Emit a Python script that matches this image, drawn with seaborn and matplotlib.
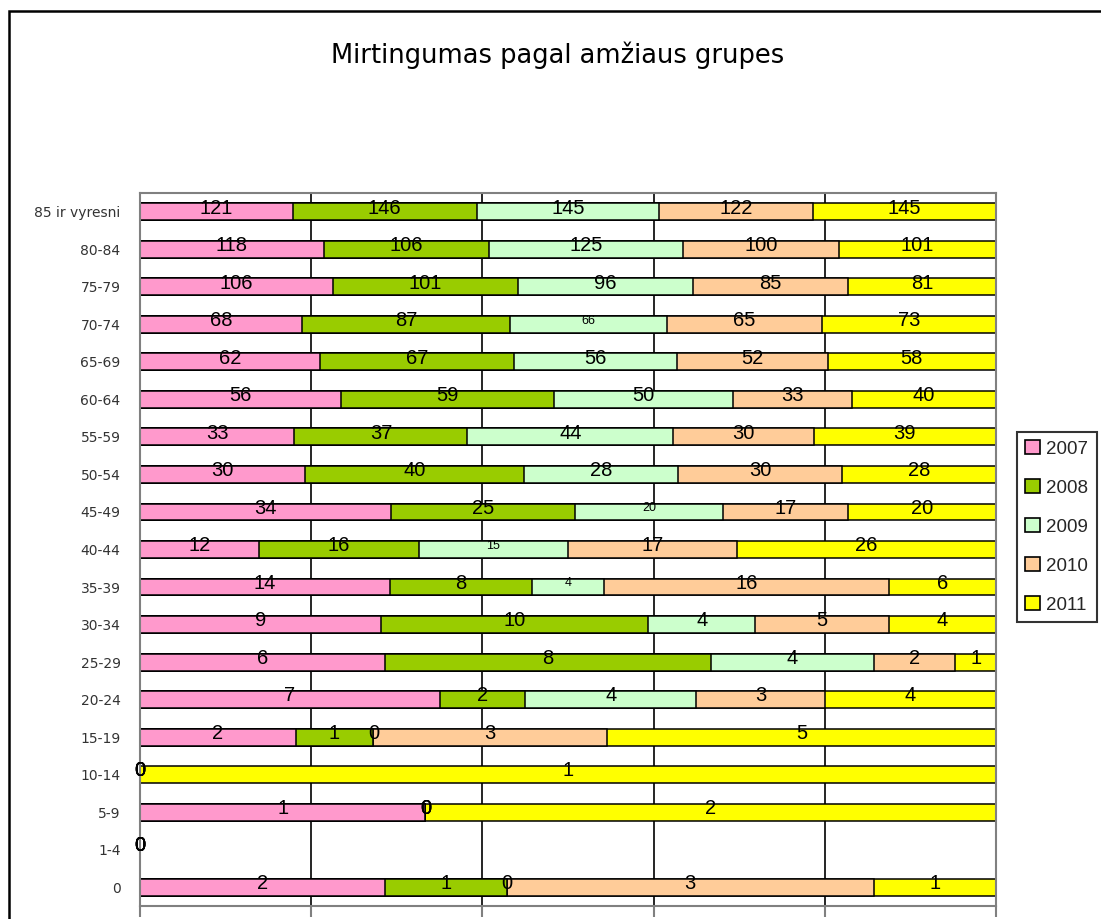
import numpy as np
import pandas as pd
import seaborn as sns
import matplotlib
matplotlib.use('Agg')
import matplotlib.pyplot as plt
from matplotlib.patches import Patch, Rectangle

# age groups, top to bottom
groups = ['85 ir vyresni', '80-84', '75-79', '70-74', '65-69', '60-64', '55-59',
          '50-54', '45-49', '40-44', '35-39', '30-34', '25-29', '20-24', '15-19',
          '10-14', '5-9', '1-4', '0']
years = ['2007', '2008', '2009', '2010', '2011']

d2007 = [121, 118, 106, 68, 62, 56, 33, 30, 34, 12, 14, 9, 6, 7, 2, 0, 1, 0, 2]
d2008 = [146, 106, 101, 87, 67, 59, 37, 40, 25, 16, 8, 10, 8, 2, 1, 0, 0, 0, 1]
d2009 = [145, 125, 96, 66, 56, 50, 44, 28, 20, 15, 4, 4, 4, 4, 0, 0, 0, 0, 0]
d2010 = [122, 100, 85, 65, 52, 33, 30, 30, 17, 17, 16, 5, 2, 3, 3, 0, 0, 0, 3]
d2011 = [145, 101, 81, 73, 58, 40, 39, 28, 20, 26, 6, 4, 1, 4, 5, 1, 2, 0, 1]

colors = ['#FF99CC', '#99CC00', '#CCFFCC', '#FFCC99', '#FFFF00']

# labels drawn smaller in the original
small = [('70-74', '2009'), ('45-49', '2009'), ('40-44', '2009'), ('35-39', '2009')]

df = pd.DataFrame({'2007': d2007, '2008': d2008, '2009': d2009,
                   '2010': d2010, '2011': d2011}, index=groups)

tot = df.sum(axis=1).replace(0, np.nan)
share = df.div(tot, axis=0).fillna(0)
cum = share.cumsum(axis=1)

sns.set_style('white')
fig = plt.figure(figsize=(11.01, 9.19), dpi=100)
ax = fig.add_axes([140 / 1101, 1 - 906 / 919, (996 - 140) / 1101, (906 - 193) / 919])

# 100% stacked: draw cumulative bars from the last series backwards
for yr, c in reversed(list(zip(years, colors))):
    sns.barplot(x=cum[yr].values, y=groups, order=groups, orient='h', color=c,
                width=0.45, edgecolor='black', linewidth=1.1, saturation=1, ax=ax)

# data labels
for i, g in enumerate(groups):
    left = 0
    for yr in years:
        w = share.loc[g, yr]
        fs = 9 if (g, yr) in small else 14.5
        ax.text(left + w / 2, i - 0.1, str(df.loc[g, yr]), ha='center', va='center',
                fontsize=fs, family='Liberation Sans', color='black')
        left += w

ax.set_xlim(0, 1)
ax.set_ylim(len(groups) - 0.5, -0.5)
ax.set_xticks([0, 0.2, 0.4, 0.6, 0.8, 1.0])
ax.set_xticklabels([])
ax.xaxis.grid(True, color='black', linewidth=1.2)
ax.set_axisbelow(True)
ax.set_xlabel('')
ax.set_ylabel('')

for s in ax.spines.values():
    s.set_color('#808080')
    s.set_linewidth(1.5)
    s.set_visible(True)

ax.tick_params(axis='y', which='major', length=0, pad=14, labelsize=10, labelcolor='#333333')
ax.set_yticks(np.arange(-0.5, len(groups), 1), minor=True)
ax.tick_params(axis='y', which='minor', length=8, width=1.5, color='#808080', direction='out')
ax.tick_params(axis='x', which='major', length=8, width=1.5, color='#808080', direction='out', bottom=True)
for t in ax.get_yticklabels():
    t.set_family('DejaVu Sans')

fig.text(558 / 1101, 1 - 55 / 919, 'Mirtingumas pagal amžiaus grupes', ha='center', va='center',
         fontsize=18.5, family='DejaVu Sans', color='black')

handles = [Patch(facecolor=c, edgecolor='black', linewidth=1.2, label=yr) for yr, c in zip(years, colors)]
leg = fig.legend(handles=handles, loc='upper left', bbox_to_anchor=(1017 / 1101, 1 - 432 / 919),
                 bbox_transform=fig.transFigure, borderaxespad=0, frameon=True, fancybox=False,
                 handlelength=0.75, handleheight=0.75, handletextpad=0.35, labelspacing=1.15,
                 borderpad=0.45, prop={'family': 'Liberation Sans', 'size': 13.5})
leg.get_frame().set_edgecolor('black')
leg.get_frame().set_linewidth(1.5)

# chart area border (runs off the right and bottom edges)
fig.patches.append(Rectangle((9 / 1101, -0.1), 1.2, 1 - 11 / 919 + 0.1, transform=fig.transFigure,
                             fill=False, edgecolor='black', linewidth=1.8, clip_on=False))

fig.savefig('out.png', dpi=100)
